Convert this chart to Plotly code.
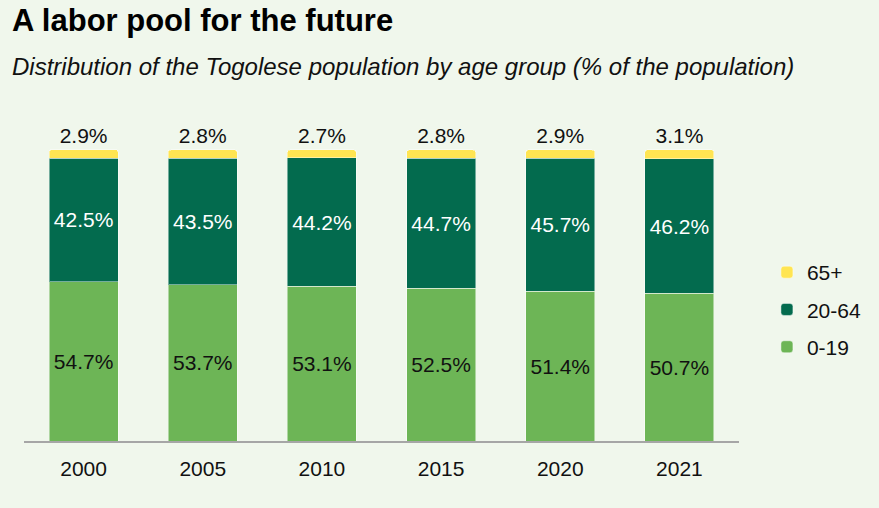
import plotly.graph_objects as go

# Togo: population share by age group (% of total population)
years = ["2000", "2005", "2010", "2015", "2020", "2021"]
age_0_19 = [54.7, 53.7, 53.1, 52.5, 51.4, 50.7]
age_20_64 = [42.5, 43.5, 44.2, 44.7, 45.7, 46.2]
age_65_plus = [2.9, 2.8, 2.7, 2.8, 2.9, 3.1]

BG = "#F0F7EC"
LIGHT_GREEN = "#6DB556"
DARK_GREEN = "#036B4E"
YELLOW = "#FFE552"
FONT = "Liberation Sans, Arial, sans-serif"
LABEL_SIZE = 21

edge = dict(color="rgba(255,255,255,0.45)", width=1)

fig = go.Figure()
fig.add_trace(go.Bar(
    x=years, y=age_0_19, name="0-19", legendgroup="a", legendrank=3,
    marker=dict(color=LIGHT_GREEN, line=edge),
    texttemplate="%{y:.1f}%", textposition="inside", insidetextanchor="middle",
    textfont=dict(color="#111111", size=LABEL_SIZE, family=FONT),
))
fig.add_trace(go.Bar(
    x=years, y=age_20_64, name="20-64", legendgroup="b", legendrank=2,
    marker=dict(color=DARK_GREEN, line=edge),
    texttemplate="%{y:.1f}%", textposition="inside", insidetextanchor="middle",
    textfont=dict(color="#FFFFFF", size=LABEL_SIZE, family=FONT),
))
fig.add_trace(go.Bar(
    x=years, y=age_65_plus, name="65+", legendgroup="c", legendrank=1,
    marker=dict(color=YELLOW, line=edge),
    texttemplate="%{y:.1f}%", textposition="outside",
    textfont=dict(color="#111111", size=LABEL_SIZE, family=FONT),
    cliponaxis=False,
))

fig.update_layout(
    width=879, height=508,
    barmode="stack", bargap=0.42, barcornerradius=3,
    paper_bgcolor=BG, plot_bgcolor=BG,
    margin=dict(l=24, r=138, t=115, b=67),
    font=dict(family=FONT, color="#111111"),
    showlegend=True,
    legend=dict(
        traceorder="grouped", tracegroupgap=7,
        x=(769 - 24) / 717, xanchor="left", y=(441 - 252) / 326, yanchor="top",
        font=dict(size=LABEL_SIZE, family=FONT, color="#111111"),
        bgcolor="rgba(0,0,0,0)", itemwidth=30,
    ),
    xaxis=dict(
        showline=True, linecolor="#A6A6A6", linewidth=2,
        showgrid=False, ticks="outside", ticklen=8, tickcolor="rgba(0,0,0,0)",
        tickfont=dict(size=LABEL_SIZE, family=FONT, color="#111111"),
    ),
    yaxis=dict(range=[0, 112], visible=False, showgrid=False, zeroline=False),
    annotations=[
        dict(text="<b>A labor pool for the future</b>", xref="paper", yref="paper",
             x=-14 / 717, y=1 + (115 - 20) / 326, xanchor="left", yanchor="middle",
             showarrow=False, font=dict(size=31, family=FONT, color="#000000")),
        dict(text="<i>Distribution of the Togolese population by age group (% of the population)</i>",
             xref="paper", yref="paper",
             x=-14 / 717, y=1 + (115 - 67) / 326, xanchor="left", yanchor="middle",
             showarrow=False, font=dict(size=24, family=FONT, color="#111111")),
    ],
)

fig.write_html("out.html")
